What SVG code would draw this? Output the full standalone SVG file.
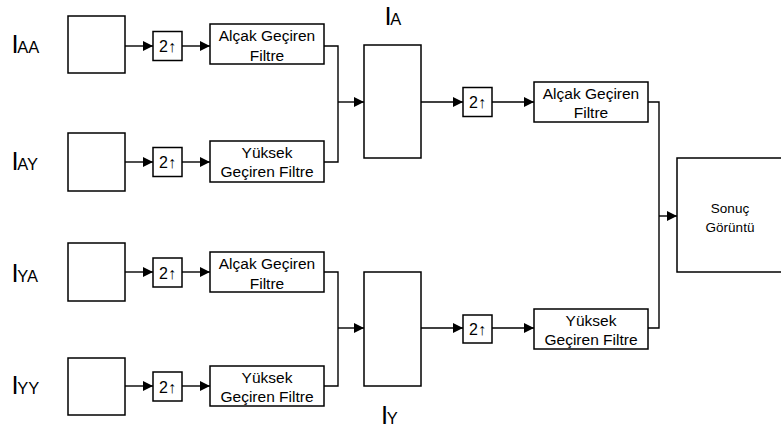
<svg xmlns="http://www.w3.org/2000/svg" width="781" height="428" viewBox="0 0 781 428">
<defs>
<marker id="ah" markerUnits="userSpaceOnUse" markerWidth="11" markerHeight="11" refX="10" refY="5" orient="auto">
<path d="M0,0 L10,5 L0,10 Z" fill="#000"/>
</marker>
<style>
rect{fill:#fff;stroke:#000;stroke-width:1.5}
.c{fill:none;stroke:#000;stroke-width:1.4}
.a{marker-end:url(#ah)}
text{font-family:"Liberation Sans",Arial,sans-serif;fill:#000}
.f{font-size:15.5px;text-anchor:middle}
.u{font-size:16px;text-anchor:middle}
.s{font-size:13.5px;text-anchor:middle}
.big{font-size:25.5px}
.sub{font-size:16.5px}
</style>
</defs>
<rect x="0" y="0" width="781" height="428" style="fill:#fff;stroke:none"/>

<g id="labels">
<text x="11.6" y="53"><tspan class="big">I</tspan><tspan class="sub" dx="-1.4">AA</tspan></text>
<text x="11.6" y="170"><tspan class="big">I</tspan><tspan class="sub" dx="-1.4">AY</tspan></text>
<text x="11.6" y="282"><tspan class="big">I</tspan><tspan class="sub" dx="-1.4">YA</tspan></text>
<text x="11.6" y="394"><tspan class="big">I</tspan><tspan class="sub" dx="-1.4">YY</tspan></text>
<text x="384.5" y="25"><tspan class="big">I</tspan><tspan class="sub" dx="-1.4">A</tspan></text>
<text x="381" y="424"><tspan class="big">I</tspan><tspan class="sub" dx="-1.4">Y</tspan></text>
</g>

<g id="connectors">
<path class="c a" d="M125,46 H153"/>
<path class="c a" d="M182,46 H210"/>
<path class="c a" d="M125,162 H153"/>
<path class="c a" d="M182,162 H210"/>
<path class="c" d="M324,46 H338 V162 H324"/>
<path class="c a" d="M338,102 H364"/>
<path class="c a" d="M421,102 H463"/>
<path class="c a" d="M492,102 H534"/>
<path class="c" d="M648,102 H659 V328 H648"/>
<path class="c a" d="M659,216 H677"/>
<path class="c a" d="M125,272 H153"/>
<path class="c a" d="M182,272 H210"/>
<path class="c a" d="M125,386 H153"/>
<path class="c a" d="M182,386 H210"/>
<path class="c" d="M324,272 H338 V386 H324"/>
<path class="c a" d="M338,328 H364"/>
<path class="c a" d="M421,328 H463"/>
<path class="c a" d="M492,328 H534"/>
</g>

<g id="IAA"><rect x="68" y="16" width="57" height="57"/></g>
<g id="IAY"><rect x="68" y="133" width="57" height="58"/></g>
<g id="IYA"><rect x="68" y="243" width="57" height="58"/></g>
<g id="IYY"><rect x="68" y="358" width="57" height="57"/></g>

<g id="up1"><rect x="153" y="31.5" width="29" height="29"/><text class="u" x="167.5" y="52">2↑</text></g>
<g id="up2"><rect x="153" y="147.5" width="29" height="29"/><text class="u" x="167.5" y="168">2↑</text></g>
<g id="up3"><rect x="153" y="258" width="29" height="29"/><text class="u" x="167.5" y="278.5">2↑</text></g>
<g id="up4"><rect x="153" y="372" width="29" height="29"/><text class="u" x="167.5" y="392.5">2↑</text></g>

<g id="f1"><rect x="210" y="24" width="114" height="40"/><text class="f" x="267" y="40.5">Alçak Geçiren</text><text class="f" x="267" y="60.5">Filtre</text></g>
<g id="f2"><rect x="210" y="141" width="114" height="41"/><text class="f" x="267" y="157.5">Yüksek</text><text class="f" x="267" y="177">Geçiren Filtre</text></g>
<g id="f3"><rect x="210" y="252" width="114" height="40"/><text class="f" x="267" y="268.5">Alçak Geçiren</text><text class="f" x="267" y="288.5">Filtre</text></g>
<g id="f4"><rect x="210" y="366" width="114" height="40"/><text class="f" x="267" y="382.5">Yüksek</text><text class="f" x="267" y="402">Geçiren Filtre</text></g>

<g id="IA"><rect x="364" y="45" width="57" height="113"/></g>
<g id="IY"><rect x="364" y="272" width="57" height="114"/></g>

<g id="up5"><rect x="463" y="87.5" width="29" height="29"/><text class="u" x="477.5" y="108">2↑</text></g>
<g id="up6"><rect x="463" y="315" width="29" height="28"/><text class="u" x="477.5" y="335">2↑</text></g>

<g id="f5"><rect x="534" y="82" width="114" height="40"/><text class="f" x="591" y="98.5">Alçak Geçiren</text><text class="f" x="591" y="117.5">Filtre</text></g>
<g id="f6"><rect x="534" y="309" width="114" height="40"/><text class="f" x="591" y="325.5">Yüksek</text><text class="f" x="591" y="345">Geçiren Filtre</text></g>

<g id="sonuc"><rect x="677" y="158" width="110" height="114"/><text class="s" x="730" y="212.5">Sonuç</text><text class="s" x="730" y="231.5">Görüntü</text></g>
</svg>
